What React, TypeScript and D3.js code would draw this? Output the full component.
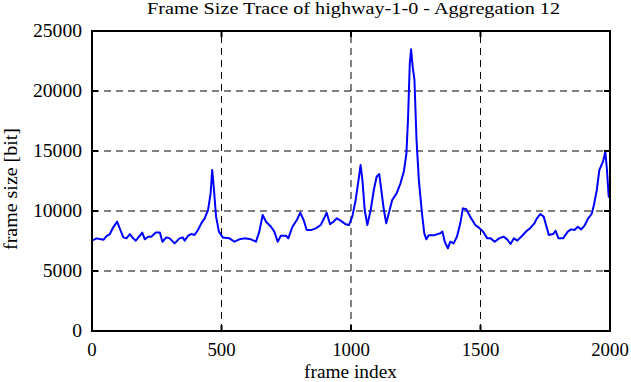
import { useEffect, useRef } from 'react';
import * as d3 from 'd3';

const frames = [
  0, 18, 44, 56, 69, 82, 97, 108, 121, 133, 146, 159, 169, 185, 194, 204, 217, 229, 246, 262,
  272, 287, 300, 319, 338, 351, 358, 371, 383, 396, 409, 422, 435, 448, 458, 464, 471, 479, 490, 505,
  531, 550, 569, 588, 614, 633, 646, 659, 672, 691, 704, 717, 729, 749, 758, 774, 791, 804, 817, 829,
  845, 864, 883, 896, 906, 919, 932, 945, 960, 980, 992, 1005, 1018, 1031, 1037, 1044, 1053, 1063, 1076, 1088,
  1099, 1109, 1117, 1127, 1136, 1146, 1159, 1176, 1191, 1204, 1214, 1220, 1227, 1232, 1238, 1245, 1253, 1262, 1274, 1283,
  1291, 1300, 1319, 1345, 1353, 1362, 1374, 1383, 1396, 1409, 1422, 1432, 1445, 1460, 1480, 1492, 1510, 1526, 1539, 1555,
  1572, 1589, 1603, 1616, 1629, 1642, 1661, 1678, 1691, 1708, 1718, 1731, 1744, 1753, 1764, 1780, 1790, 1801, 1819, 1837,
  1850, 1863, 1876, 1889, 1903, 1916, 1929, 1938, 1949, 1959, 1973, 1982, 1988, 1995, 2000,
];

const frameSizes = [
  7525, 7720, 7600, 7900, 8080, 8640, 9110, 8500, 7800, 7720, 8080, 7720, 7530, 7940, 8200, 7640, 7860, 7860, 8200, 8200,
  7440, 7800, 7720, 7300, 7720, 7800, 7530, 7940, 8080, 8000, 8420, 8970, 9390, 10080, 11470, 13420, 11750, 9530, 8280, 7800,
  7720, 7440, 7640, 7720, 7640, 7440, 8280, 9670, 9110, 8690, 8280, 7440, 7940, 7940, 7720, 8690, 9250, 9860, 9250, 8410,
  8410, 8550, 8830, 9390, 9860, 8890, 9110, 9390, 9200, 8890, 8830, 9530, 10920, 12860, 13830, 12580, 10080, 8830, 10080, 11750,
  12860, 13080, 11750, 10080, 8970, 9810, 10920, 11470, 12310, 13280, 14810, 17580, 22310, 23470, 22030, 20920, 15920, 12580, 9810, 8140,
  7640, 7970, 7970, 8140, 8280, 7440, 6890, 7440, 7300, 7860, 8970, 10220, 10140, 9530, 8830, 8640, 8280, 7720, 7720, 7440,
  7720, 7860, 7640, 7250, 7720, 7530, 7940, 8330, 8550, 8970, 9390, 9750, 9530, 8830, 8000, 8080, 8350, 7720, 7720, 8280,
  8470, 8420, 8690, 8470, 8830, 9390, 9750, 10500, 11750, 13420, 14110, 14940, 13500, 11190, 11130,
];

const xTicks = [0, 500, 1000, 1500, 2000];
const yTicks = [0, 5000, 10000, 15000, 20000, 25000];

const W = 631;
const H = 382;
const FONT = '"Liberation Serif", "DejaVu Serif", serif';

export default function App() {
  const svgRef = useRef<SVGSVGElement | null>(null);

  useEffect(() => {
    if (!svgRef.current) return;
    const svg = d3.select(svgRef.current);
    svg.selectAll('*').remove();

    const left = 92, right = 610, top = 31, bottom = 331;
    const x = d3.scaleLinear().domain([0, 2000]).range([left, right]);
    const y = d3.scaleLinear().domain([0, 25000]).range([bottom, top]);

    svg.append('rect').attr('width', W).attr('height', H).attr('fill', '#fff');

    // dashed grid at the inner ticks
    const grid = svg.append('g').attr('stroke', '#000').attr('stroke-width', 1).attr('stroke-dasharray', '7,5');
    xTicks.slice(1, -1).forEach(t => {
      grid.append('line').attr('x1', x(t)).attr('x2', x(t)).attr('y1', bottom).attr('y2', top);
    });
    yTicks.slice(1, -1).forEach(t => {
      grid.append('line').attr('x1', left).attr('x2', right).attr('y1', y(t)).attr('y2', y(t));
    });

    // trace
    const pts = frames.map((f, i) => [f, frameSizes[i]] as [number, number]);
    svg.append('path').datum(pts)
      .attr('d', d3.line<[number, number]>().x(d => x(d[0])).y(d => y(d[1])))
      .attr('fill', 'none').attr('stroke', '#0000ff').attr('stroke-width', 2)
      .attr('stroke-linejoin', 'round');

    // frame + inward ticks on all sides
    const ax = svg.append('g').attr('stroke', '#000').attr('stroke-width', 2);
    ax.append('rect').attr('x', left).attr('y', top).attr('width', right - left).attr('height', bottom - top)
      .attr('fill', 'none');
    xTicks.forEach(t => {
      ax.append('line').attr('x1', x(t)).attr('x2', x(t)).attr('y1', bottom).attr('y2', bottom - 6);
      ax.append('line').attr('x1', x(t)).attr('x2', x(t)).attr('y1', top).attr('y2', top + 6);
    });
    yTicks.forEach(t => {
      ax.append('line').attr('x1', left).attr('x2', left + 6).attr('y1', y(t)).attr('y2', y(t));
      ax.append('line').attr('x1', right).attr('x2', right - 6).attr('y1', y(t)).attr('y2', y(t));
    });

    const txt = svg.append('g').attr('font-family', FONT).attr('fill', '#000');
    xTicks.forEach(t => {
      const s = String(t);
      txt.append('text').attr('x', x(t)).attr('y', 356).attr('text-anchor', 'middle')
        .attr('font-size', 18).attr('textLength', s.length * 9.4).attr('lengthAdjust', 'spacingAndGlyphs')
        .text(s);
    });
    yTicks.forEach(t => {
      const s = String(t);
      txt.append('text').attr('x', 82).attr('y', y(t) + 6).attr('text-anchor', 'end')
        .attr('font-size', 18).attr('textLength', s.length * 9.8).attr('lengthAdjust', 'spacingAndGlyphs')
        .text(s);
    });
    txt.append('text').attr('x', 350.5).attr('y', 378).attr('text-anchor', 'middle')
      .attr('font-size', 18.5).attr('textLength', 93).attr('lengthAdjust', 'spacingAndGlyphs')
      .text('frame index');
    txt.append('text').attr('transform', `translate(17,189) rotate(-90)`)
      .attr('text-anchor', 'middle').attr('font-size', 18)
      .attr('textLength', 122).attr('lengthAdjust', 'spacingAndGlyphs')
      .text('frame size [bit]');
    txt.append('text').attr('x', 353.5).attr('y', 14).attr('text-anchor', 'middle')
      .attr('font-size', 16).attr('textLength', 413).attr('lengthAdjust', 'spacingAndGlyphs')
      .text('Frame Size Trace of highway-1-0 - Aggregation 12');
  }, []);

  return (
    <svg ref={svgRef} width={W} height={H}
      style={{ position: 'absolute', left: 0, top: 0, display: 'block' }} />
  );
}
